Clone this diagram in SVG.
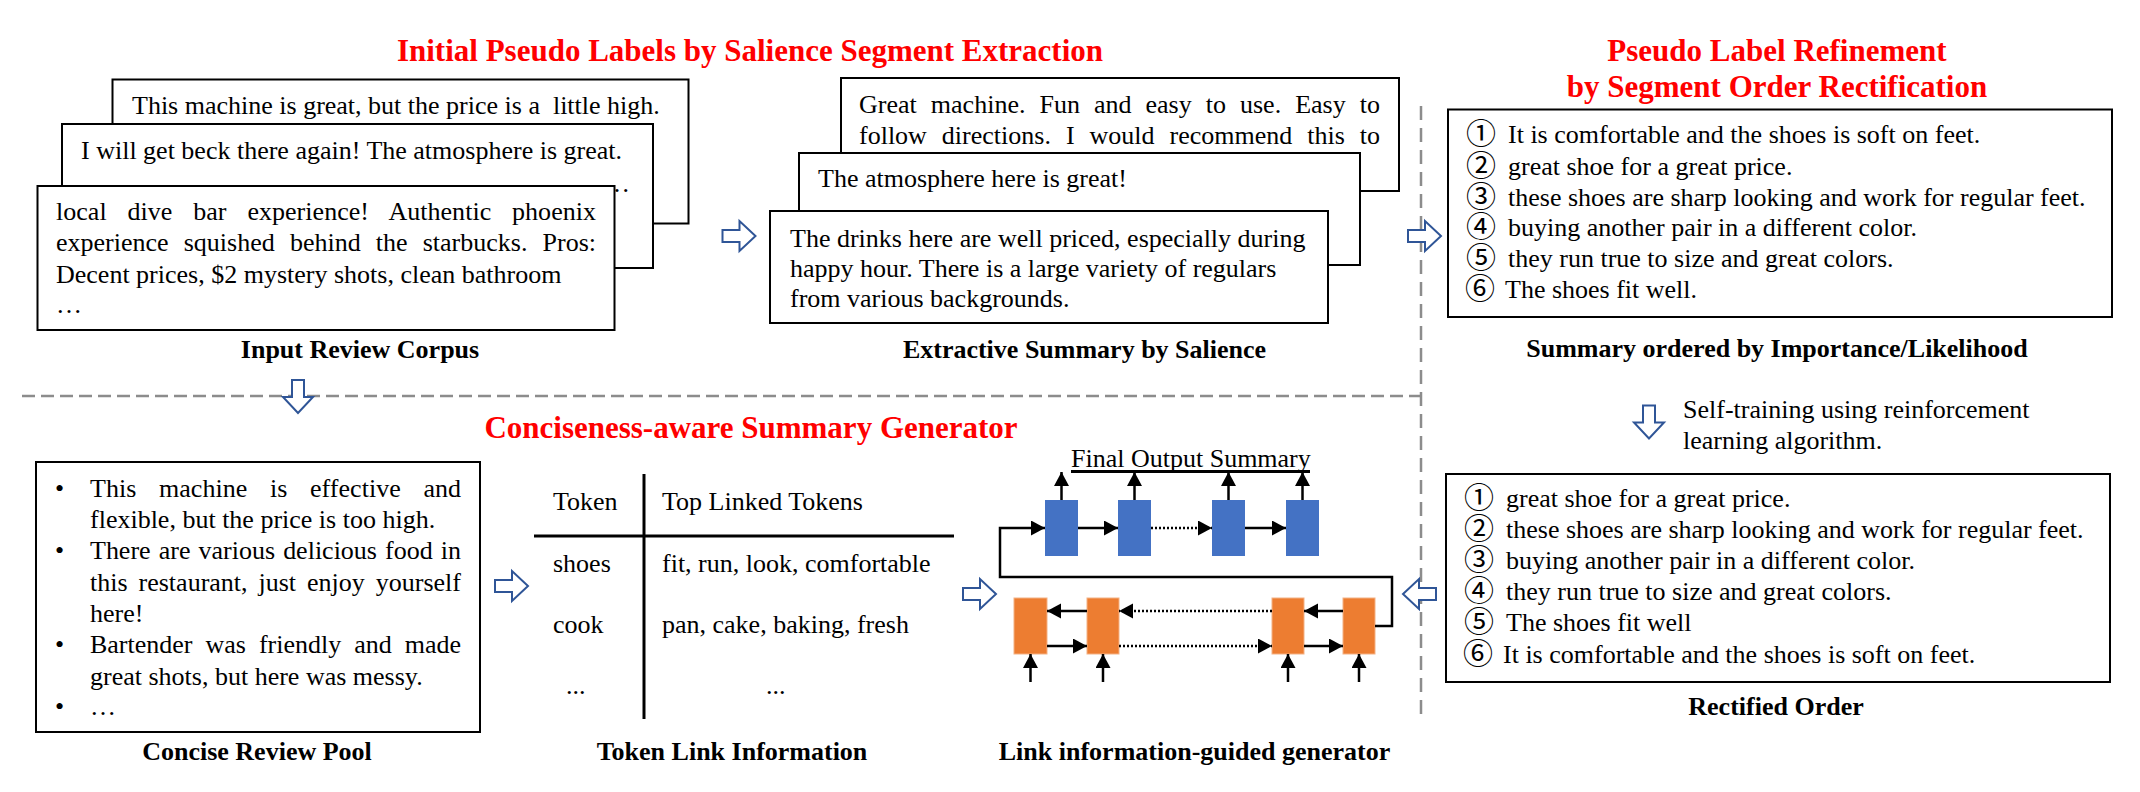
<svg xmlns="http://www.w3.org/2000/svg" width="2140" height="792" viewBox="0 0 2140 792">
<style>
.t{font-family:"Liberation Serif","Times New Roman",serif;font-size:26px;fill:#000}
.title{font-family:"Liberation Serif","Times New Roman",serif;font-size:31px;font-weight:bold;fill:#FF0000;text-anchor:middle}
.lbl{font-family:"Liberation Serif","Times New Roman",serif;font-size:26px;font-weight:bold;fill:#000;text-anchor:middle}
.box{fill:#fff;stroke:#000;stroke-width:2}
.circ{font-family:"Noto Sans CJK JP","Noto Sans CJK SC",sans-serif;font-size:30px;fill:#000}
.dash{stroke:#8c8c8c;stroke-width:2.5;stroke-dasharray:13 6;fill:none}
.vdash{stroke:#8c8c8c;stroke-width:2.5;stroke-dasharray:14 8;fill:none}
.harrow{fill:#fff;stroke:#2F5597;stroke-width:2;stroke-linejoin:miter}
.blue{fill:#4472C4}
.orange{fill:#ED7D31;stroke:#F4B183;stroke-width:1}
.ln{stroke:#000;stroke-width:2.5;fill:none}
.dot{stroke:#000;stroke-width:2.5;stroke-dasharray:2 2;fill:none}
.tbl{stroke:#000;stroke-width:3;fill:none}
</style>
<defs>
<marker id="ah" markerUnits="userSpaceOnUse" markerWidth="16" markerHeight="16" refX="14" refY="7.5" orient="auto">
<path d="M0,0 L14,7.5 L0,15 Z" fill="#000"/>
</marker>
<path id="bigR" d="M-16,-6 L1,-6 L1,-15 L17,0 L1,15 L1,6 L-16,6 Z"/>
</defs>

<!-- titles -->
<g id="title-initial"><text class="title" x="750" y="61">Initial Pseudo Labels by Salience Segment Extraction</text></g>
<g id="title-refine"><text class="title" x="1777" y="61">Pseudo Label Refinement</text><text class="title" x="1777" y="97">by Segment Order Rectification</text></g>
<g id="title-generator"><text class="title" x="751" y="438">Conciseness-aware Summary Generator</text></g>

<!-- separators -->
<g id="separators">
<line class="dash" x1="22" y1="396" x2="1421" y2="396"/>
<line class="vdash" x1="1421" y1="106" x2="1421" y2="720"/>
</g>

<!-- Input Review Corpus -->
<g id="input-review-corpus">
<rect class="box" x="112.5" y="79.5" width="576" height="144"/>
<text class="t" x="132" y="114" xml:space="preserve">This machine is great, but the price is a  little high.</text>
<rect class="box" x="62" y="124" width="591" height="144"/>
<text class="t" x="81" y="159">I will get beck there again! The atmosphere is great.</text>
<text class="t" x="604" y="192">…</text>
<rect class="box" x="37.5" y="186" width="577" height="144"/>
<text class="t" x="56" y="220" word-spacing="14.3" textLength="540" lengthAdjust="spacing">local dive bar experience! Authentic phoenix</text>
<text class="t" x="56" y="251" word-spacing="8.6" textLength="540" lengthAdjust="spacing">experience squished behind the starbucks. Pros:</text>
<text class="t" x="56" y="283">Decent prices, $2 mystery shots, clean bathroom</text>
<text class="t" x="56" y="313">…</text>
<text class="lbl" x="360" y="358">Input Review Corpus</text>
</g>

<!-- Extractive Summary -->
<g id="extractive-summary">
<rect class="box" x="841" y="78" width="558" height="113"/>
<text class="t" x="859" y="113" word-spacing="7.5" textLength="521" lengthAdjust="spacing">Great machine. Fun and easy to use. Easy to</text>
<text class="t" x="859" y="144" word-spacing="8.5" textLength="521" lengthAdjust="spacing">follow directions. I would recommend this to</text>
<rect class="box" x="799" y="153" width="561" height="112"/>
<text class="t" x="818" y="187">The atmosphere here is great!</text>
<rect class="box" x="770" y="211" width="558" height="112"/>
<text class="t" x="790" y="247">The drinks here are well priced, especially during</text>
<text class="t" x="790" y="277">happy hour. There is a large variety of regulars</text>
<text class="t" x="790" y="307">from various backgrounds.</text>
<text class="lbl" x="1084.5" y="358">Extractive Summary by Salience</text>
</g>

<!-- Summary ordered by importance -->
<g id="summary-ordered">
<rect class="box" x="1448" y="109.5" width="664" height="207.5"/>
<text class="circ" x="1466" y="144">①</text><text class="t" x="1508" y="143">It is comfortable and the shoes is soft on feet.</text>
<text class="circ" x="1466" y="176">②</text><text class="t" x="1508" y="175">great shoe for a great price.</text>
<text class="circ" x="1466" y="207">③</text><text class="t" x="1508" y="206">these shoes are sharp looking and work for regular feet.</text>
<text class="circ" x="1466" y="237">④</text><text class="t" x="1508" y="236">buying another pair in a different color.</text>
<text class="circ" x="1466" y="268">⑤</text><text class="t" x="1508" y="267">they run true to size and great colors.</text>
<text class="circ" x="1465" y="299">⑥</text><text class="t" x="1505" y="298">The shoes fit well.</text>
<text class="lbl" x="1777" y="357">Summary ordered by Importance/Likelihood</text>
</g>

<!-- Self-training note -->
<g id="self-training">
<text class="t" x="1683" y="418">Self-training using reinforcement</text>
<text class="t" x="1683" y="449">learning algorithm.</text>
</g>

<!-- Rectified order -->
<g id="rectified-order">
<rect class="box" x="1446" y="474" width="664" height="208"/>
<text class="circ" x="1464" y="508">①</text><text class="t" x="1506" y="507">great shoe for a great price.</text>
<text class="circ" x="1464" y="539">②</text><text class="t" x="1506" y="538">these shoes are sharp looking and work for regular feet.</text>
<text class="circ" x="1464" y="570">③</text><text class="t" x="1506" y="569">buying another pair in a different color.</text>
<text class="circ" x="1464" y="601">④</text><text class="t" x="1506" y="600">they run true to size and great colors.</text>
<text class="circ" x="1464" y="632">⑤</text><text class="t" x="1506" y="631">The shoes fit well</text>
<text class="circ" x="1463" y="664">⑥</text><text class="t" x="1503" y="663">It is comfortable and the shoes is soft on feet.</text>
<text class="lbl" x="1776" y="715">Rectified Order</text>
</g>

<!-- Concise Review Pool -->
<g id="concise-review-pool">
<rect class="box" x="36" y="462" width="444" height="270"/>
<text class="t" x="55" y="497">•</text><text class="t" x="90" y="497" word-spacing="16.2" textLength="371" lengthAdjust="spacing">This machine is effective and</text>
<text class="t" x="90" y="528">flexible, but the price is too high.</text>
<text class="t" x="55" y="559">•</text><text class="t" x="90" y="559" word-spacing="1.6" textLength="371" lengthAdjust="spacing">There are various delicious food in</text>
<text class="t" x="90" y="591" word-spacing="4.5" textLength="371" lengthAdjust="spacing">this restaurant, just enjoy yourself</text>
<text class="t" x="90" y="622">here!</text>
<text class="t" x="55" y="653">•</text><text class="t" x="90" y="653" word-spacing="6.5" textLength="371" lengthAdjust="spacing">Bartender was friendly and made</text>
<text class="t" x="90" y="685">great shots, but here was messy.</text>
<text class="t" x="55" y="715">•</text><text class="t" x="90" y="715">…</text>
<text class="lbl" x="257" y="760">Concise Review Pool</text>
</g>

<!-- Token Link Information -->
<g id="token-link-information">
<line class="tbl" x1="644" y1="474" x2="644" y2="719"/>
<line class="tbl" x1="534" y1="536" x2="954" y2="536"/>
<text class="t" x="553" y="510">Token</text>
<text class="t" x="662" y="510">Top Linked Tokens</text>
<text class="t" x="553" y="572">shoes</text>
<text class="t" x="662" y="572">fit, run, look, comfortable</text>
<text class="t" x="553" y="633">cook</text>
<text class="t" x="662" y="633">pan, cake, baking, fresh</text>
<text class="t" x="566" y="694">...</text>
<text class="t" x="766" y="694">...</text>
<text class="lbl" x="732" y="760">Token Link Information</text>
</g>

<!-- Generator -->
<g id="link-guided-generator">
<text class="t" x="1071" y="467">Final Output Summary</text>
<line x1="1071" y1="471.5" x2="1310" y2="471.5" stroke="#000" stroke-width="3"/>
<rect class="blue" x="1045" y="500" width="33" height="56"/>
<rect class="blue" x="1118" y="500" width="33" height="56"/>
<rect class="blue" x="1212" y="500" width="33" height="56"/>
<rect class="blue" x="1286" y="500" width="33" height="56"/>
<rect class="orange" x="1014" y="598" width="33" height="56"/>
<rect class="orange" x="1087" y="598" width="32" height="56"/>
<rect class="orange" x="1272" y="598" width="32" height="56"/>
<rect class="orange" x="1343" y="598" width="32" height="56"/>
<text class="lbl" x="1194.5" y="760">Link information-guided generator</text>
</g>

<!-- connectors -->
<g id="connectors">
<use href="#bigR" class="harrow" transform="translate(738.5,236)"/>
<use href="#bigR" class="harrow" transform="translate(1424,236)"/>
<use href="#bigR" class="harrow" transform="translate(298,396) rotate(90)"/>
<use href="#bigR" class="harrow" transform="translate(511,586)"/>
<use href="#bigR" class="harrow" transform="translate(979,594)"/>
<use href="#bigR" class="harrow" transform="translate(1420,594) rotate(180)"/>
<use href="#bigR" class="harrow" transform="translate(1649,421.5) rotate(90)"/>
<line class="ln" x1="1061.5" y1="500" x2="1061.5" y2="472" marker-end="url(#ah)"/>
<line class="ln" x1="1134.5" y1="500" x2="1134.5" y2="472" marker-end="url(#ah)"/>
<line class="ln" x1="1228.5" y1="500" x2="1228.5" y2="472" marker-end="url(#ah)"/>
<line class="ln" x1="1302.5" y1="500" x2="1302.5" y2="472" marker-end="url(#ah)"/>
<line class="ln" x1="1078" y1="528" x2="1118" y2="528" marker-end="url(#ah)"/>
<line class="dot" x1="1151" y1="528" x2="1212" y2="528" marker-end="url(#ah)"/>
<line class="ln" x1="1245" y1="528" x2="1286" y2="528" marker-end="url(#ah)"/>
<path class="ln" d="M1375,626 L1392,626 L1392,577 L1000,577 L1000,528 L1045,528" marker-end="url(#ah)"/>
<line class="ln" x1="1087" y1="611" x2="1047" y2="611" marker-end="url(#ah)"/>
<line class="dot" x1="1272" y1="611" x2="1119" y2="611" marker-end="url(#ah)"/>
<line class="ln" x1="1343" y1="611" x2="1304" y2="611" marker-end="url(#ah)"/>
<line class="ln" x1="1047" y1="646" x2="1087" y2="646" marker-end="url(#ah)"/>
<line class="dot" x1="1119" y1="646" x2="1272" y2="646" marker-end="url(#ah)"/>
<line class="ln" x1="1304" y1="646" x2="1343" y2="646" marker-end="url(#ah)"/>
<line class="ln" x1="1030.5" y1="682" x2="1030.5" y2="654" marker-end="url(#ah)"/>
<line class="ln" x1="1103" y1="682" x2="1103" y2="654" marker-end="url(#ah)"/>
<line class="ln" x1="1288" y1="682" x2="1288" y2="654" marker-end="url(#ah)"/>
<line class="ln" x1="1359" y1="682" x2="1359" y2="654" marker-end="url(#ah)"/>
</g>
</svg>
